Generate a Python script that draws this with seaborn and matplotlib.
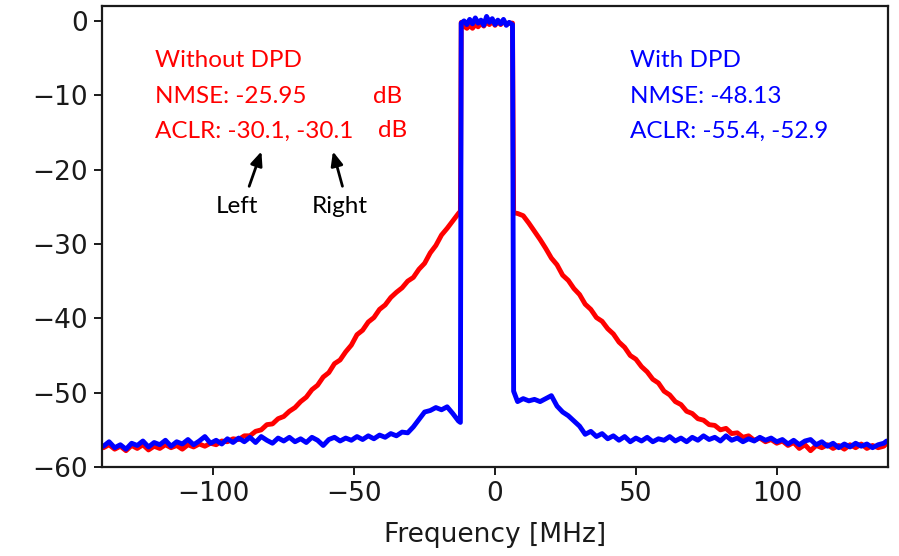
import matplotlib
matplotlib.use("Agg")
import matplotlib.pyplot as plt
import seaborn as sns
import pandas as pd

# ---------------- data ----------------
freq_left = [-139, -137, -135, -133, -131, -129, -127, -125, -123, -121,
             -119, -117, -115, -113, -111, -109, -107, -105, -103, -101,
             -99, -97, -95, -93, -91, -89, -87, -85, -83, -81,
             -79, -77, -75, -73, -71, -69, -67, -65, -63, -61,
             -59, -57, -55, -53, -51, -49, -47, -45, -43, -41,
             -39, -37, -35, -33, -31, -29, -27, -25, -23, -21,
             -19, -17, -15, -13, -12.3]
freq_band = [-12.0, -11, -10, -9, -8, -7, -6, -5, -4, -3, -2, -1, 0,
             1, 2, 3, 4, 5, 6.2]
freq_right = [6.6, 8, 10, 12, 14, 16, 18, 20, 22, 24, 26, 28, 30, 32, 34, 36,
              38, 40, 42, 44, 46, 48, 50, 52, 54, 56, 58, 60, 62, 64, 66,
              68, 70, 72, 74, 76, 78, 80, 82, 84, 86, 88, 90, 92, 94, 96,
              98, 100, 102, 104, 106, 108, 110, 112, 114, 116, 118, 120,
              122, 124, 126, 128, 130, 132, 134, 136, 138, 139]

# Without DPD (red)
red_left = [-57.4, -57.0, -57.6, -57.2, -57.8, -57.1, -57.5, -57.0, -57.7, -57.2,
            -57.5, -57.0, -57.4, -57.1, -57.6, -57.0, -57.3, -56.9, -57.2, -56.8,
            -57.0, -56.5, -56.6, -56.2, -56.3, -55.8, -55.8, -55.2, -55.0, -54.3,
            -54.2, -53.5, -53.2, -52.5, -52.0, -51.2, -50.6, -49.6, -49.0, -47.9,
            -47.3, -46.1, -45.6, -44.5, -43.6, -42.2, -41.6, -40.5, -39.9, -38.8,
            -38.2, -37.2, -36.5, -35.9, -35.0, -34.5, -33.4, -32.6, -31.2, -30.2,
            -28.8, -27.9, -26.9, -25.9, -25.6]
red_band = [-0.2, -0.7, -1.0, -0.6, -1.0, -0.5, -0.8, -0.3, -0.7, -0.1,
            -0.5, 0.0, -0.6, -0.1, -0.5, 0.0, -0.5, -0.3, -0.3]
red_right = [-25.8, -25.9, -26.2, -27.2, -28.3, -29.4, -30.6, -31.9, -32.8, -34.2,
             -34.9, -36.0, -36.8, -38.1, -38.8, -39.9, -40.4, -41.4, -42.1, -43.2,
             -43.9, -45.0, -45.5, -46.5, -47.2, -48.2, -48.7, -49.8, -50.3, -51.2,
             -51.6, -52.5, -52.8, -53.5, -53.7, -54.3, -54.4, -55.0, -54.8, -55.5,
             -55.4, -56.0, -55.8, -56.4, -56.1, -56.6, -56.3, -56.8, -56.5, -57.1,
             -56.7, -57.5, -57.0, -57.8, -57.1, -57.4, -57.0, -57.5, -57.1, -57.6,
             -57.0, -57.4, -56.9, -57.5, -57.1, -57.4, -57.2, -56.8]

# With DPD (blue)
blue_left = [-57.2, -56.6, -57.4, -57.0, -57.6, -56.8, -57.1, -56.5, -57.3, -56.7,
             -57.0, -56.4, -57.2, -56.6, -56.9, -56.3, -57.0, -56.5, -55.9, -56.8,
             -56.4, -56.9, -56.2, -56.7, -56.1, -56.6, -56.0, -56.7, -55.9, -56.4,
             -56.8, -56.1, -56.5, -56.0, -56.6, -56.2, -56.7, -56.0, -56.4, -57.1,
             -56.3, -56.0, -56.5, -56.1, -56.4, -55.9, -56.3, -55.8, -56.2, -55.7,
             -56.0, -55.5, -55.8, -55.3, -55.4, -54.6, -53.6, -52.6, -52.4, -52.0,
             -52.3, -51.9, -52.8, -53.8, -54.0]
blue_band = [-0.3, 0.0, -0.5, 0.2, -0.4, 0.4, -0.3, 0.1, -0.6, 0.6,
             -0.2, 0.3, -0.5, 0.1, -0.4, 0.2, -0.6, -0.2, -0.5]
blue_right = [-49.8, -51.2, -50.8, -51.1, -50.9, -51.2, -50.8, -50.4, -51.8, -52.6,
              -53.1, -53.8, -54.5, -55.6, -55.2, -55.9, -55.5, -56.2, -55.8, -56.4,
              -55.9, -56.6, -56.1, -56.5, -56.0, -56.6, -56.2, -56.4, -55.9, -56.5,
              -56.1, -56.6, -56.0, -56.4, -55.8, -56.3, -56.0, -56.5, -55.8, -56.4,
              -56.1, -56.6, -56.2, -56.5, -56.0, -56.4, -56.1, -56.6, -56.3, -56.9,
              -56.4, -57.0, -56.5, -56.3, -57.0, -56.6, -57.2, -56.8, -57.4, -56.9,
              -57.3, -56.8, -57.2, -56.9, -57.4, -57.0, -56.8, -56.5]

yticks = [0, -10, -20, -30, -40, -50, -60]
xticks = [-100, -50, 0, 50, 100]

text_without = ["Without DPD", "NMSE: -25.95", "ACLR: -30.1, -30.1"]
text_with = ["With DPD", "NMSE: -48.13", "ACLR: -55.4, -52.9"]

# ---------------- build frames ----------------
freq = freq_left + freq_band + freq_right
df_red = pd.DataFrame({"f": freq, "p": red_left + red_band + red_right})
df_blue = pd.DataFrame({"f": freq, "p": blue_left + blue_band + blue_right})

sns.set_theme(style="ticks")
plt.rcParams["font.family"] = ["DejaVu Sans"]

fig = plt.figure(figsize=(8.99, 5.56), dpi=100)
ax = fig.add_axes([0.1135, 0.16, 0.8743, 0.8292])

sns.lineplot(data=df_red, x="f", y="p", color="#ff0000", lw=3.5,
             estimator=None, sort=False, ax=ax)
sns.lineplot(data=df_blue, x="f", y="p", color="#0000ff", lw=3.5,
             estimator=None, sort=False, ax=ax)

ax.set_xlim(-139.5, 139.5)
ax.set_ylim(-60, 2)
ax.set_xticks(xticks)
ax.set_yticks(yticks)
ax.set_xlabel("Frequency [MHz]", fontsize=19, labelpad=11, color="#1a1a1a")
ax.set_ylabel("")
ax.tick_params(axis="both", labelsize=19, length=6, width=1.4, pad=4,
               direction="out", color="#1a1a1a", labelcolor="#1a1a1a")
for s in ax.spines.values():
    s.set_linewidth(1.6)
    s.set_color("#1a1a1a")

tfont = dict(family=["Lato", "DejaVu Sans"], fontsize=17.5)
ys = [-5.3, -10.2, -14.8]
for t, y in zip(text_without, ys):
    ax.text(-120.6, y, t, color="#ff0000", ha="left", va="center", **tfont)
ax.text(-43.2, ys[1], "dB", color="#ff0000", ha="left", va="center", **tfont)
ax.text(-41.5, ys[2], "dB", color="#ff0000", ha="left", va="center", **tfont)
for t, y in zip(text_with, ys):
    ax.text(47.9, y, t, color="#0000ff", ha="left", va="center", **tfont)

ax.annotate("", xy=(-82.6, -17.2), xytext=(-87.6, -22.6),
            arrowprops=dict(arrowstyle="-|>,head_length=0.7,head_width=0.3",
                            color="black", lw=2))
ax.annotate("", xy=(-57.8, -17.2), xytext=(-53.9, -22.6),
            arrowprops=dict(arrowstyle="-|>,head_length=0.7,head_width=0.3",
                            color="black", lw=2))
ax.text(-91.5, -24.9, "Left", color="black", ha="center", va="center", **tfont)
ax.text(-55.0, -24.9, "Right", color="black", ha="center", va="center", **tfont)

fig.savefig("out.png", dpi=100)
